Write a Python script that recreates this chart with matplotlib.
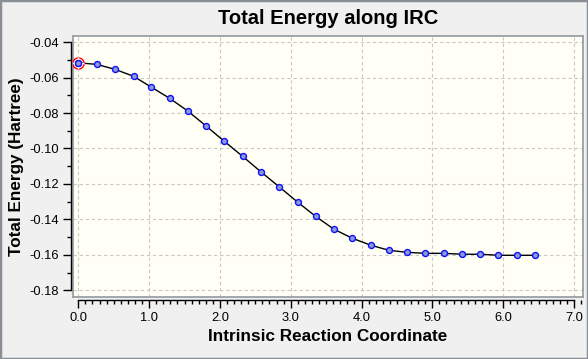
import matplotlib
matplotlib.use("Agg")
import matplotlib.pyplot as plt
from matplotlib.ticker import MultipleLocator, FormatStrFormatter
from matplotlib.patches import Rectangle

# ---------- data ----------
irc_x = [0.00, 0.26, 0.52, 0.78, 1.03, 1.29, 1.55, 1.81, 2.06, 2.32,
         2.58, 2.84, 3.10, 3.35, 3.61, 3.87, 4.13, 4.39, 4.64, 4.90,
         5.16, 5.42, 5.68, 5.93, 6.19, 6.45]
energy = [-0.0517, -0.0526, -0.0554, -0.0593, -0.0654, -0.0717, -0.0790,
          -0.0875, -0.0959, -0.1044, -0.1132, -0.1217, -0.1303, -0.1382,
          -0.1455, -0.1506, -0.1545, -0.1574, -0.1585, -0.1591, -0.1591,
          -0.1596, -0.1596, -0.1602, -0.1602, -0.1602]
current_point = 0  # highlighted with red circle

plt.rcParams['font.family'] = ['Liberation Sans', 'DejaVu Sans']

W, H = 588, 359
fig = plt.figure(figsize=(W / 100, H / 100), dpi=100, facecolor="#f0f0f0")

# plot frame in pixel coords: x 73..583, y 36..297
left, right, top, bottom = 73, 583, 36, 297
pos = [left / W, 1 - bottom / H, (right - left) / W, (bottom - top) / H]

xlim = (-0.075, 7.128)
ylim = (-0.1837, -0.0366)

# ---------- main plot area ----------
ax = fig.add_axes(pos)
ax.set_facecolor("#fffff6")
ax.set_xlim(*xlim)
ax.set_ylim(*ylim)
for s in ax.spines.values():
    s.set_color("#9a9fa6")
    s.set_linewidth(1.3)
ax.set_xticks([0, 1, 2, 3, 4, 5, 6, 7])
ax.set_yticks([-0.04, -0.06, -0.08, -0.10, -0.12, -0.14, -0.16, -0.18])
ax.tick_params(length=0, labelleft=False, labelbottom=False)
ax.grid(True, color="#c8c8c8", linestyle=(0, (3, 2.5)), linewidth=0.8)

ax.plot(irc_x, energy, color="black", linewidth=1.0, zorder=3)
ax.plot(irc_x, energy, linestyle="none", marker="o", markersize=4.3,
        markerfacecolor="#8c9ad6", markeredgecolor="#1010ff",
        markeredgewidth=1.0, zorder=4)
ax.plot([irc_x[current_point]], [energy[current_point]], linestyle="none",
        marker="o", markersize=8, markerfacecolor="none",
        markeredgecolor="red", markeredgewidth=1.0, zorder=5)
# dashed look of the highlight ring
ax.plot([irc_x[current_point]], [energy[current_point]], linestyle="none",
        marker="+", markersize=8.5, markeredgecolor="#fffff6",
        markeredgewidth=1.0, zorder=5.5)
ax.plot([irc_x[current_point]], [energy[current_point]], linestyle="none",
        marker="o", markersize=4.3, markerfacecolor="#8c9ad6",
        markeredgecolor="#1010ff", markeredgewidth=1.0, zorder=6)

# ---------- detached axes with ticks ----------
ax2 = fig.add_axes(pos)
ax2.patch.set_visible(False)
ax2.spines["top"].set_visible(False)
ax2.spines["right"].set_visible(False)
ax2.spines["left"].set_position(("outward", 1.5))
ax2.spines["bottom"].set_position(("outward", 2.2))
ax2.spines["left"].set_bounds(-0.18, -0.04)
ax2.spines["bottom"].set_bounds(0, 7)
for s in ("left", "bottom"):
    ax2.spines[s].set_color("black")
    ax2.spines[s].set_linewidth(1.0)

ax2.xaxis.set_major_locator(MultipleLocator(1.0))
ax2.xaxis.set_minor_locator(MultipleLocator(0.1))
ax2.yaxis.set_major_locator(MultipleLocator(0.02))
ax2.yaxis.set_minor_locator(MultipleLocator(0.01))
ax2.xaxis.set_major_formatter(FormatStrFormatter("%.1f"))
ax2.yaxis.set_major_formatter(FormatStrFormatter("%.2f"))
ax2.tick_params(which="major", direction="out", length=5.5, width=1.0,
                labelsize=9.3, pad=3)
ax2.tick_params(which="minor", direction="out", length=3, width=1.0)
ax2.set_xlim(*xlim)
ax2.set_ylim(*ylim)

ax2.set_xlabel("Intrinsic Reaction Coordinate", fontsize=12.3,
               fontweight="bold", labelpad=4)
ax2.set_ylabel("Total Energy (Hartree)", fontsize=12.3, fontweight="bold")
ax2.yaxis.set_label_coords((24 - left) / (right - left), 0.5)
fig.text((left + right) / 2 / W, 1 - 18 / H, "Total Energy along IRC",
         ha="center", va="center", fontsize=14.5, fontweight="bold")

# window border
fig.patches.append(Rectangle((0, 0), 1, 1, transform=fig.transFigure,
                             fill=False, edgecolor="#8a8f96", linewidth=2.5))

fig.savefig("out.png", dpi=100, facecolor=fig.get_facecolor())
